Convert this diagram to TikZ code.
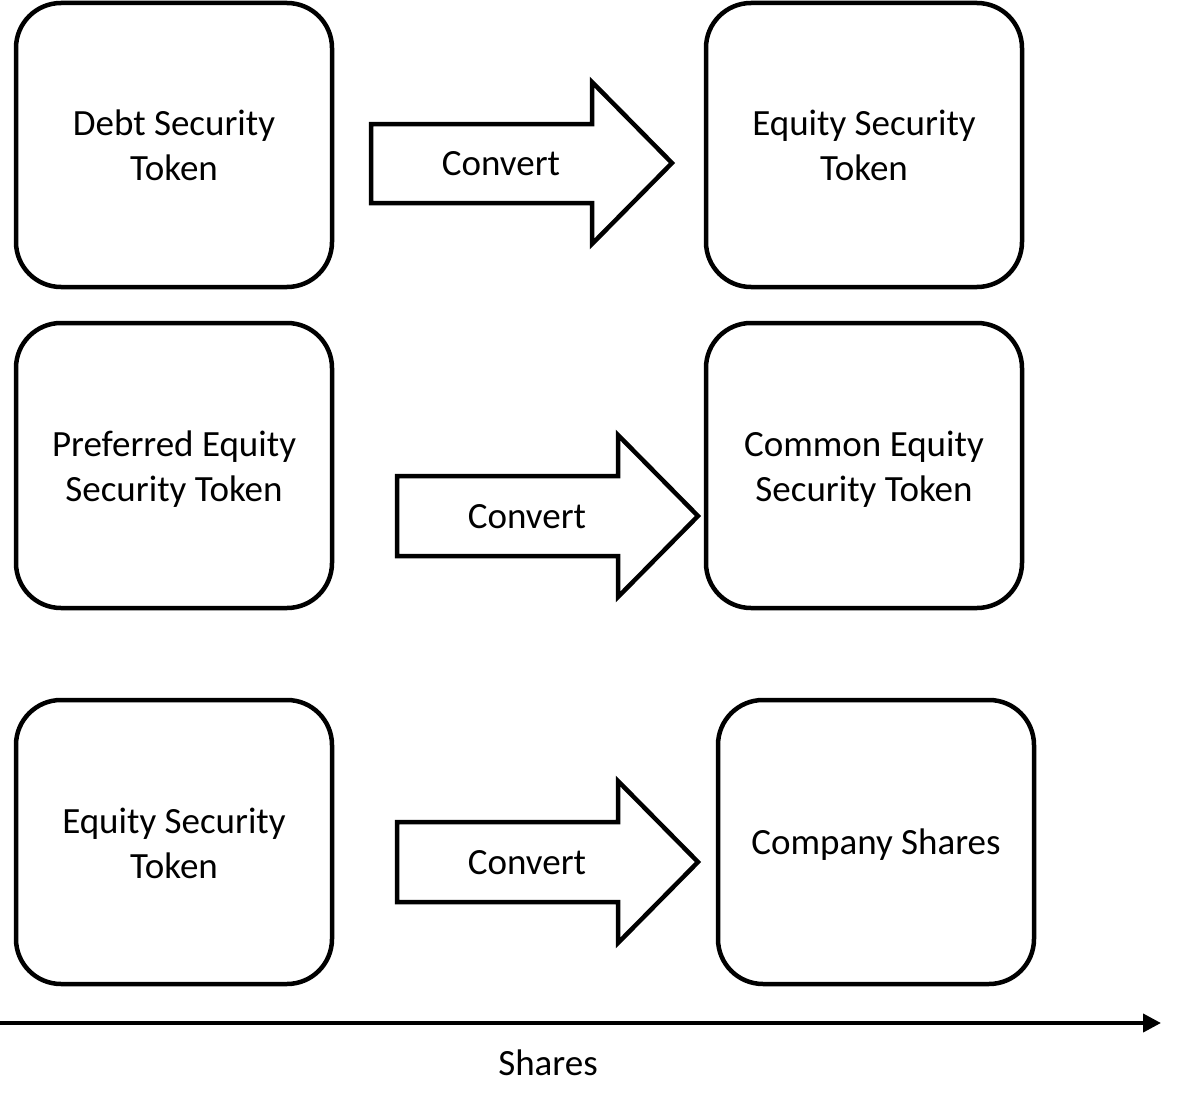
\documentclass[tikz,border=0pt]{standalone}
\usepackage{fontspec}
\setmainfont{Carlito}
\usetikzlibrary{arrows.meta}
\begin{document}
\begin{tikzpicture}[x=1pt,y=-1pt,
  tokenbox/.style={draw=black,line width=4.5pt,rounded corners=45pt,minimum width=316pt,inner sep=0pt},
  boxtext/.style={align=center,inner sep=0pt,font=\fontsize{37}{45}\selectfont},
  convarrow/.style={draw=black,line width=4.5pt,fill=white,line join=miter},
  lbl/.style={font=\fontsize{37}{45}\selectfont,inner sep=0pt}]
\useasboundingbox (0,0) rectangle (1179,1108);
% boxes
\node[tokenbox,minimum height=284pt] (debt) at (174,145) {};
\node[boxtext] (debt-t) at (174,145) {Debt Security\\Token};
\node[tokenbox,minimum height=284pt] (eq1) at (864,145) {};
\node[boxtext] (eq1-t) at (864,145) {Equity Security\\Token};
\node[tokenbox,minimum height=285pt] (pref) at (174,465.5) {};
\node[boxtext] (pref-t) at (174,469) {Preferred Equity\\Security Token};
\node[tokenbox,minimum height=285pt] (common) at (864,465.5) {};
\node[boxtext] (common-t) at (864,469) {Common Equity\\Security Token};
\node[tokenbox,minimum height=284pt] (eq2) at (174,842) {};
\node[boxtext] (eq2-t) at (174,843) {Equity Security\\Token};
\node[tokenbox,minimum height=284pt] (shares) at (876,842) {};
\node[boxtext] (shares-t) at (876,845) {Company Shares};
% convert arrows
\draw[convarrow] (371,124) -- (592,124) -- (592,82) -- (672,163) -- (592,244) -- (592,203) -- (371,203) -- cycle;
\node[lbl] (c1) at (501,164) {Convert};
\draw[convarrow] (397,476) -- (618,476) -- (618,435) -- (698,516) -- (618,597) -- (618,556) -- (397,556) -- cycle;
\node[lbl] (c2) at (527,517) {Convert};
\draw[convarrow] (397,822) -- (618,822) -- (618,781) -- (698,862) -- (618,943) -- (618,902) -- (397,902) -- cycle;
\node[lbl] (c3) at (527,863) {Convert};
% axis
\coordinate (ax0) at (0,1023);
\coordinate (ax1) at (1161,1023);
\draw[line width=4pt,-{Triangle[length=18pt,width=18pt]}] (ax0) -- (ax1);
\node[lbl] (axl) at (548,1063) {Shares};
\end{tikzpicture}
\end{document}
